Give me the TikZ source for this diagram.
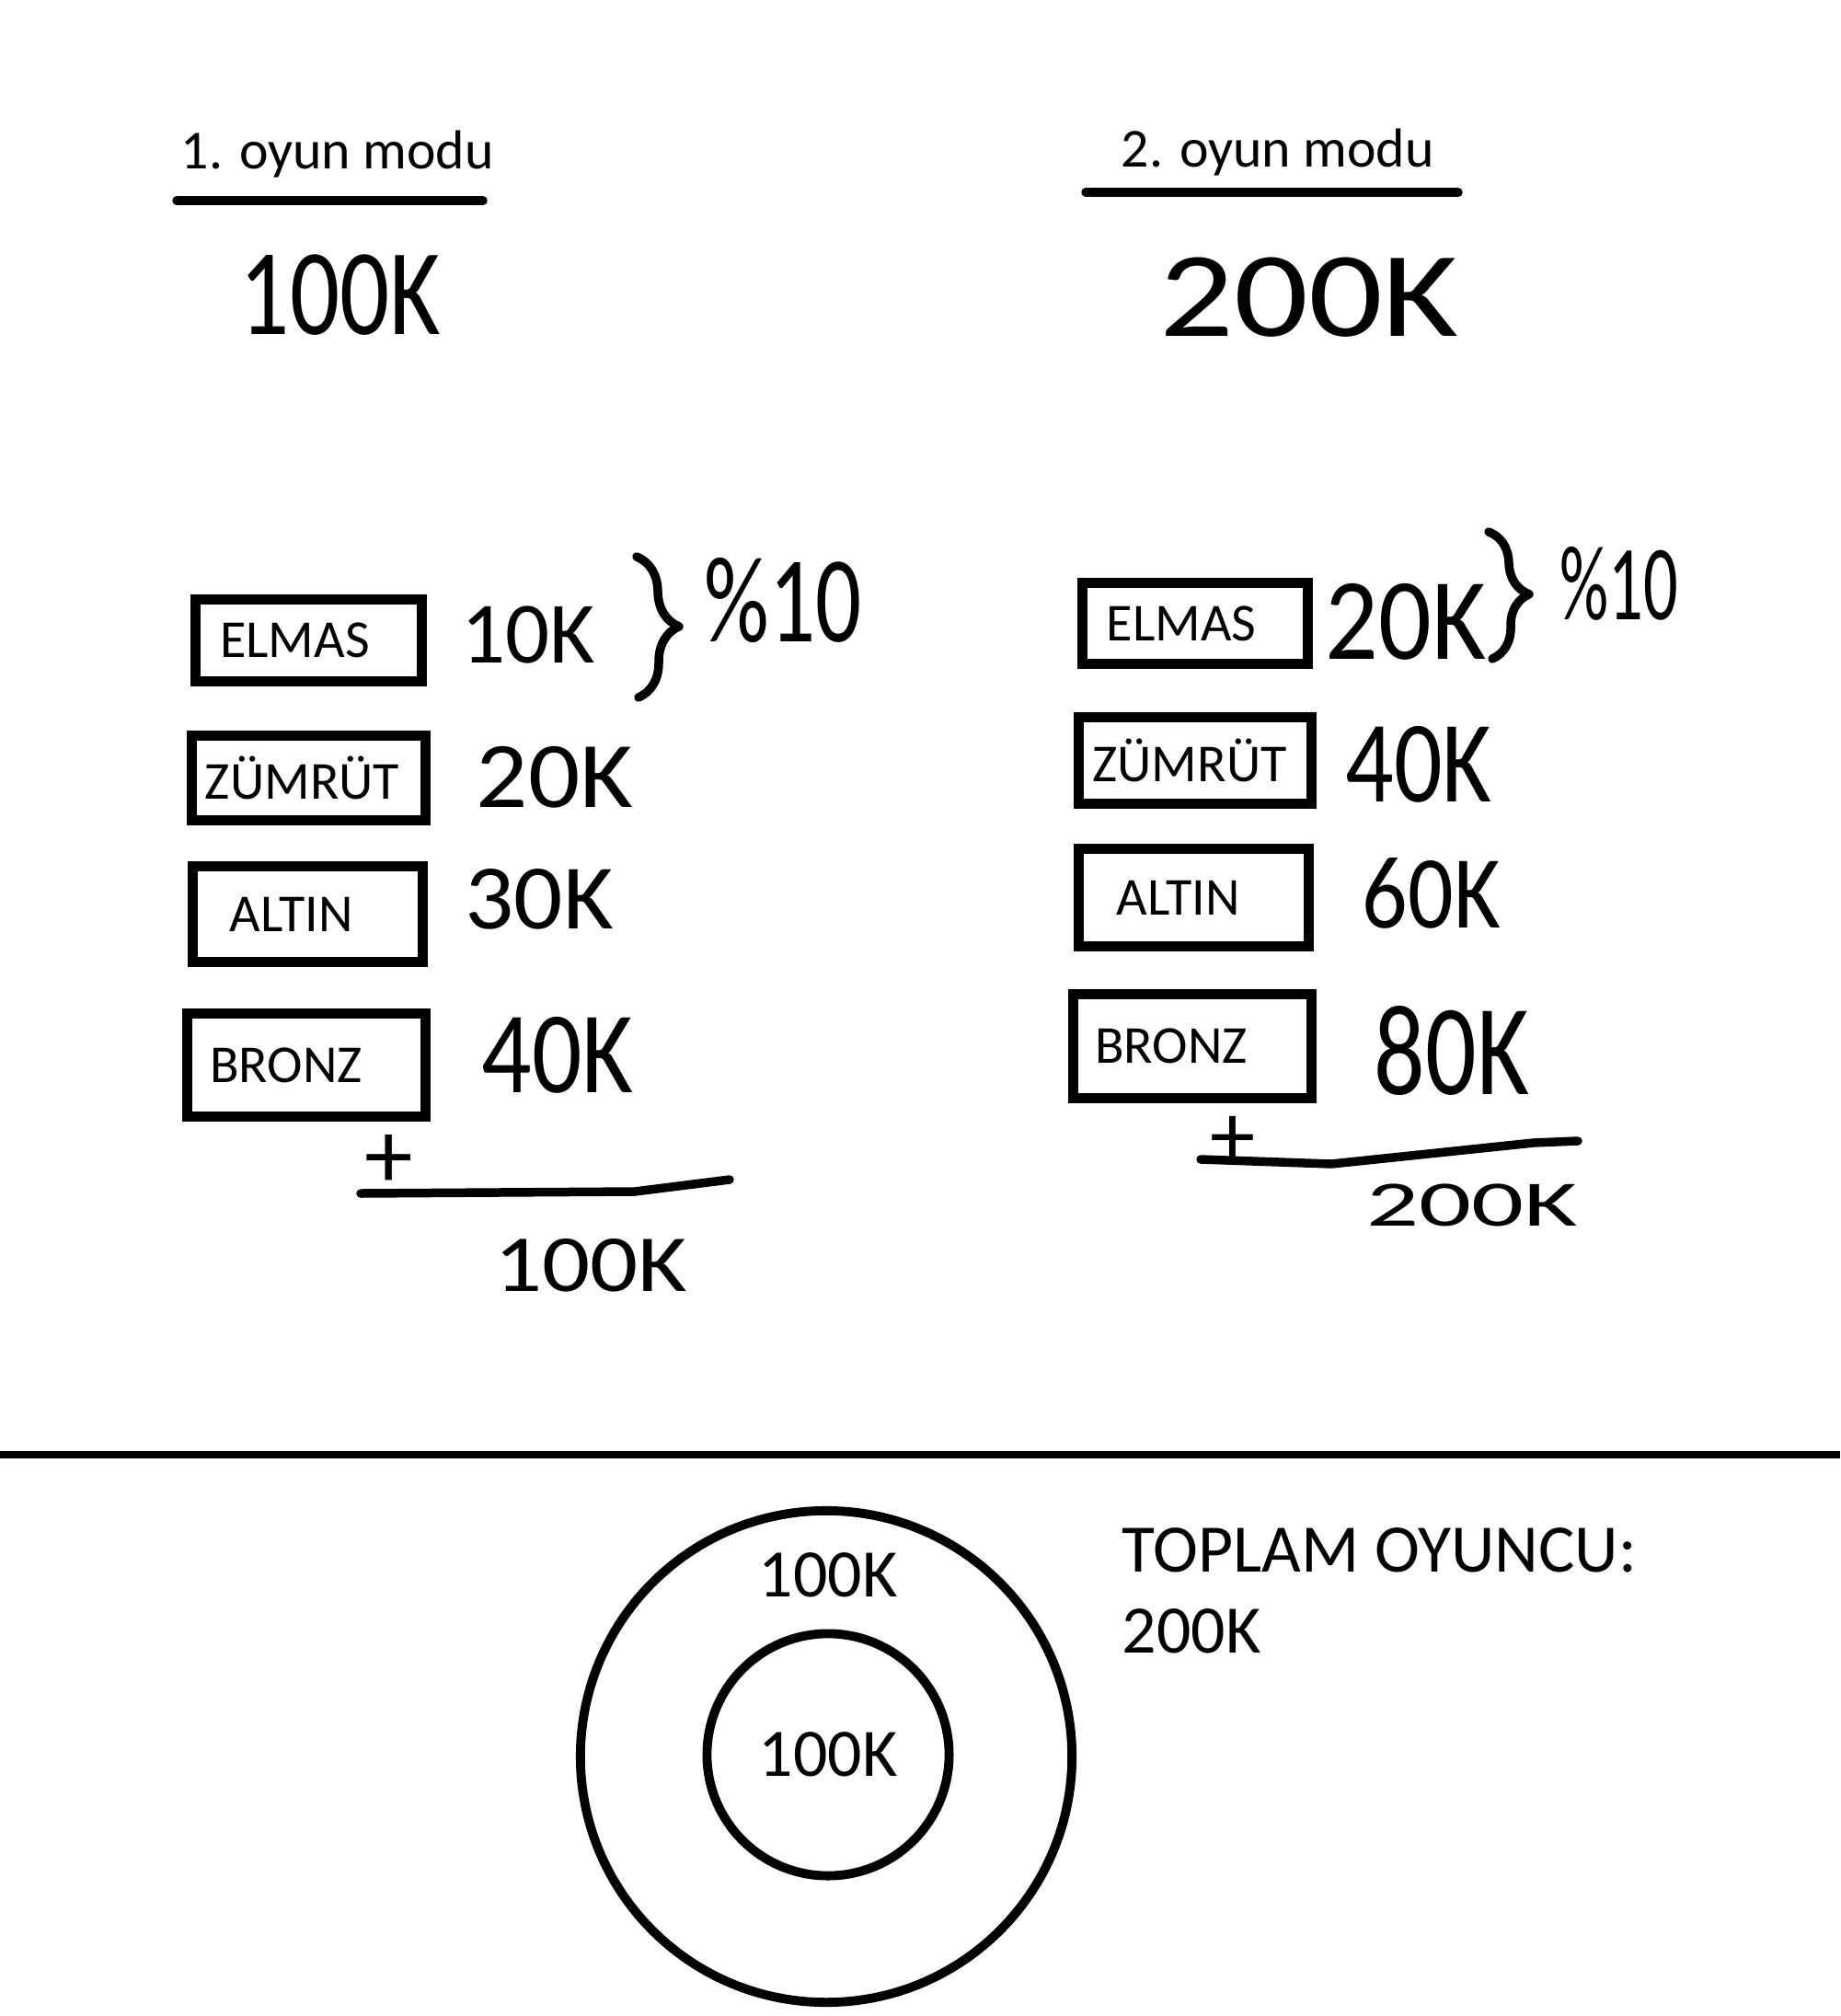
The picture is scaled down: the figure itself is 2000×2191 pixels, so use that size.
\documentclass[tikz,border=0pt]{standalone}
\usepackage{fontspec}
\setmainfont{Carlito}
\usetikzlibrary{decorations.pathreplacing}

\begin{document}
\begin{tikzpicture}[x=0.01cm, y=-0.01cm,
    tier/.style={draw, line width=3pt, inner sep=0pt},
    tiertext/.style={inner sep=0pt, font=\fontsize{16.5}{18}\selectfont},
    hand/.style={inner sep=0pt, font=\fontsize{#1}{#1}\selectfont},
    stroke/.style={line width=2.7pt, line cap=round, line join=round},
    plain/.style={inner sep=0pt, font=\fontsize{21}{24}\selectfont},
    ring/.style={draw, circle, line width=2.8pt, inner sep=0pt}]
    \fill[white] (0,0) rectangle (2000,2191);
    \useasboundingbox (0,0) rectangle (2000,2191);
    % Titles
    \node[plain, font=\fontsize{17}{20}\selectfont, anchor=base west] (modeA) at (196,183) {1. oyun modu};
    \node[plain, font=\fontsize{17}{20}\selectfont, anchor=base west] (modeB) at (1218,182) {2. oyun modu};
    \draw[stroke] (192,218) -- (525,218);
    \draw[stroke] (1180,209) -- (1585,209);
    \node[hand=38] (totalA) at (370,321) {\scalebox{0.8}[1]{100K}};
    \node[hand=37.5] (totalB) at (1423,323) {\scalebox{1.21}[1]{200K}};
    % Tiers
    \foreach \name/\x/\y/\w/\h/\dx [count=\i] in {ELMAS/335.5/696/2.46/0.89/15, ZÜMRÜT/335.5/845.5/2.54/0.92/7, ALTIN/334.5/993.5/2.50/1.04/18, BRONZ/333/1157.5/2.59/1.12/22} {%
        \node[tier, minimum width=\w cm, minimum height=\h cm] (A\i) at (\x,\y) {};
        \node[tiertext] (At\i) at ({\x-\dx},\y) {\name};
    }
    \foreach \name/\x/\y/\w/\h/\dx [count=\i] in {ELMAS/1299/677.5/2.45/0.88/15, ZÜMRÜT/1299/826.5/2.53/0.94/6, ALTIN/1297.5/975.5/2.50/1.06/17, BRONZ/1296/1137/2.59/1.13/23} {%
        \node[tier, minimum width=\w cm, minimum height=\h cm] (B\i) at (\x,\y) {};
        \node[tiertext] (Bt\i) at ({\x-\dx},\y) {\name};
    }
    % Values
    \foreach \val/\x/\y/\fs/\xs [count=\i] in {10K/574/690/27/1.0, 20K/603/845/29/1.09, 30K/586/977/28.5/1.05, 40K/606/1147/36/0.85, \%10/851/652/38/0.74} {%
        \node[hand=\fs] (a\i) at (\x,\y) {\scalebox{\xs}[1]{\val}};
    }
    \foreach \val/\x/\y/\fs/\xs [count=\i] in {20K/1528/676/36/0.9, 40K/1542/831/36/0.82, 60K/1556/971/32/0.87, 80K/1578/1142/40/0.78, \%10/1760/634/33/0.64} {%
        \node[hand=\fs] (b\i) at (\x,\y) {\scalebox{\xs}[1]{\val}};
    }
    \draw[stroke, decorate, decoration={brace, amplitude=0.45cm}] (692,605) -- (694,758);
    \draw[stroke, decorate, decoration={brace, amplitude=0.42cm}] (1618,578) -- (1622,716);
    % Sums
    \node[hand=30] (plusA) at (423,1262) {+};
    \node[hand=28] (plusB) at (1340,1240) {+};
    \draw[stroke] (392,1297) -- (690,1295) -- (793,1282);
    \draw[stroke] (1305,1260) -- (1447,1265) -- (1667,1242) -- (1715,1240);
    \node[hand=25] (sumA) at (642,1375) {\scalebox{1.17}[1]{100K}};
    \node[hand=20] (sumB) at (1600,1310) {\scalebox{1.6}[1]{200K}};
    % Separator
    \draw[line width=2.4pt] (0,1581) -- (2000,1581);
    % Players
    \node[ring, minimum size=5.34cm] (outer) at (898,1909) {};
    \node[ring, minimum size=2.63cm, font=\fontsize{21}{24}\selectfont] (inner) at (900,1907) {100K};
    \node[plain] (outerval) at (900,1712) {100K};
    \node[plain, anchor=base west] (total) at (1219,1708) {TOPLAM OYUNCU:};
    \node[plain, anchor=base west] (totalval) at (1219,1796) {200K};
\end{tikzpicture}
\end{document}
